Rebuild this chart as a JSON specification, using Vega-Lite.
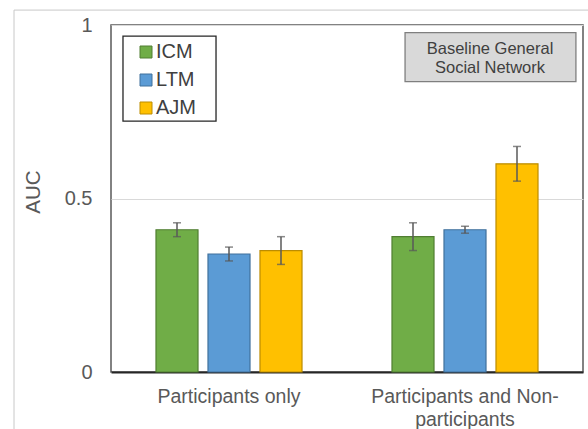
{
  "$schema": "https://vega.github.io/schema/vega-lite/v6.json",
  "width": 472,
  "height": 347,
  "autosize": {"type": "none"},
  "padding": {"left": 111, "top": 25, "right": 5, "bottom": 57},
  "background": "white",
  "config": {
    "font": "Liberation Sans",
    "view": {"stroke": "#595959", "strokeWidth": 1.5},
    "axis": {"labelFont": "Liberation Sans", "titleFont": "Liberation Sans"}
  },
  "datasets": {
    "auc": [
      {"group": "Participants only", "model": "ICM", "auc": 0.41, "lo": 0.39, "hi": 0.43},
      {"group": "Participants only", "model": "LTM", "auc": 0.34, "lo": 0.32, "hi": 0.36},
      {"group": "Participants only", "model": "AJM", "auc": 0.35, "lo": 0.31, "hi": 0.39},
      {"group": "Participants and Non-participants", "model": "ICM", "auc": 0.39, "lo": 0.35, "hi": 0.43},
      {"group": "Participants and Non-participants", "model": "LTM", "auc": 0.41, "lo": 0.40, "hi": 0.42},
      {"group": "Participants and Non-participants", "model": "AJM", "auc": 0.60, "lo": 0.55, "hi": 0.65}
    ],
    "frame": [
      {"x": -0.2055, "x2": 1.3, "y": 1.043, "y2": 1.043},
      {"x": -0.2055, "x2": -0.2055, "y": 1.043, "y2": -0.3}
    ],
    "legendBox": [
      {"x": 0.0254, "x2": 0.2225, "y": 0.968, "y2": 0.723}
    ],
    "noteBox": [
      {"x": 0.623, "x2": 0.985, "y": 0.978, "y2": 0.837}
    ],
    "notes": [
      {"x": 0.803, "y": 0.931, "text": "Baseline General\nSocial Network"}
    ]
  },
  "layer": [
    {
      "data": {"name": "auc"},
      "encoding": {
        "x": {
          "field": "group",
          "type": "nominal",
          "sort": null,
          "scale": {"paddingInner": 0.339, "paddingOuter": 0.1695},
          "axis": {
            "title": null,
            "labelAngle": 0,
            "ticks": false,
            "labelFontSize": 19.5,
            "labelColor": "#595959",
            "labelPadding": 15,
            "labelLineHeight": 23.5,
            "labelLimit": 400,
            "labelExpr": "datum.label == 'Participants and Non-participants' ? ['Participants and Non-', 'participants'] : datum.label",
            "domainColor": "#262626",
            "domainWidth": 2
          }
        },
        "xOffset": {
          "field": "model",
          "type": "nominal",
          "sort": ["ICM", "LTM", "AJM"],
          "scale": {"paddingInner": 0.192, "paddingOuter": 0.096}
        }
      },
      "layer": [
        {
          "mark": {"type": "bar", "strokeWidth": 1.2},
          "encoding": {
            "y": {
              "field": "auc",
              "type": "quantitative",
              "scale": {"domain": [0, 1], "nice": false},
              "axis": {
                "title": "AUC",
                "values": [0, 0.5, 1],
                "labelExpr": "datum.value == 0 ? '0' : datum.value == 1 ? '1' : '0.5'",
                "ticks": false,
                "domain": false,
                "gridColor": "#d9d9d9",
                "gridWidth": 1,
                "labelFontSize": 20,
                "labelColor": "#595959",
                "labelPadding": 19,
                "titleFontSize": 20.5,
                "titleFontWeight": "normal",
                "titleColor": "#595959",
                "titleX": -78,
                "titleY": 166.5,
                "titleAlign": "center",
                "titleBaseline": "middle"
              }
            },
            "fill": {
              "field": "model",
              "type": "nominal",
              "sort": ["ICM", "LTM", "AJM"],
              "scale": {"domain": ["ICM", "LTM", "AJM"], "range": ["#70AD47", "#5B9BD5", "#FFC000"]},
              "legend": {
                "title": null,
                "orient": "none",
                "legendX": 25,
                "legendY": 17,
                "padding": 0,
                "symbolType": "square",
                "symbolSize": 144,
                "symbolStrokeWidth": 1,
                "labelFontSize": 20,
                "labelColor": "#404040",
                "labelOffset": 0,
                "rowPadding": 8
              }
            },
            "stroke": {
              "field": "model",
              "type": "nominal",
              "sort": ["ICM", "LTM", "AJM"],
              "scale": {"domain": ["ICM", "LTM", "AJM"], "range": ["#507E32", "#41719C", "#BC8C00"]},
              "legend": {
                "title": null,
                "orient": "none",
                "legendX": 25,
                "legendY": 17,
                "padding": 0,
                "symbolType": "square",
                "symbolSize": 144,
                "symbolStrokeWidth": 1,
                "labelFontSize": 20,
                "labelColor": "#404040",
                "labelOffset": 0,
                "rowPadding": 8
              }
            }
          }
        },
        {
          "mark": {"type": "rule", "color": "#595959", "strokeWidth": 1.5},
          "encoding": {
            "y": {"field": "lo", "type": "quantitative", "scale": {"domain": [0, 1], "nice": false}},
            "y2": {"field": "hi"}
          }
        },
        {
          "mark": {"type": "tick", "color": "#595959", "thickness": 1.5, "size": 8},
          "encoding": {
            "y": {"field": "lo", "type": "quantitative", "scale": {"domain": [0, 1], "nice": false}}
          }
        },
        {
          "mark": {"type": "tick", "color": "#595959", "thickness": 1.5, "size": 8},
          "encoding": {
            "y": {"field": "hi", "type": "quantitative", "scale": {"domain": [0, 1], "nice": false}}
          }
        }
      ]
    },
    {
      "data": {"name": "frame"},
      "mark": {"type": "rule", "color": "#c8c8c8", "strokeWidth": 1},
      "encoding": {
        "x": {"field": "x", "type": "quantitative", "scale": {"domain": [0, 1], "nice": false, "zero": false}, "axis": null},
        "x2": {"field": "x2"},
        "y": {"field": "y", "type": "quantitative", "scale": {"domain": [0, 1], "nice": false}, "axis": null},
        "y2": {"field": "y2"}
      }
    },
    {
      "data": {"name": "legendBox"},
      "mark": {"type": "rect", "fill": null, "fillOpacity": 0, "stroke": "#262626", "strokeWidth": 1.3},
      "encoding": {
        "x": {"field": "x", "type": "quantitative", "scale": {"domain": [0, 1], "nice": false}, "axis": null},
        "x2": {"field": "x2"},
        "y": {"field": "y", "type": "quantitative", "scale": {"domain": [0, 1], "nice": false}, "axis": null},
        "y2": {"field": "y2"}
      }
    },
    {
      "data": {"name": "noteBox"},
      "mark": {"type": "rect", "fill": "#d9d9d9", "stroke": "#7f7f7f", "strokeWidth": 1.3},
      "encoding": {
        "x": {"field": "x", "type": "quantitative", "scale": {"domain": [0, 1], "nice": false}, "axis": null},
        "x2": {"field": "x2"},
        "y": {"field": "y", "type": "quantitative", "scale": {"domain": [0, 1], "nice": false}, "axis": null},
        "y2": {"field": "y2"}
      }
    },
    {
      "data": {"name": "notes"},
      "mark": {"type": "text", "fontSize": 16.5, "color": "#404040", "lineBreak": "\n", "lineHeight": 19, "align": "center", "baseline": "middle"},
      "encoding": {
        "x": {"field": "x", "type": "quantitative", "scale": {"domain": [0, 1], "nice": false}, "axis": null},
        "y": {"field": "y", "type": "quantitative", "scale": {"domain": [0, 1], "nice": false}, "axis": null},
        "text": {"field": "text"}
      }
    }
  ],
  "resolve": {"scale": {"x": "independent", "y": "independent"}}
}
